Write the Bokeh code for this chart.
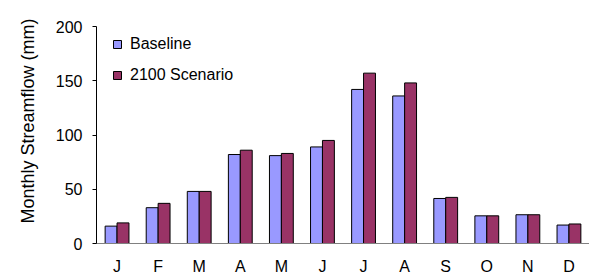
from bokeh.plotting import figure
from bokeh.models import ColumnDataSource, FixedTicker, Legend, LegendItem, Title
from bokeh.transform import dodge
from bokeh.embed import file_html
from bokeh.resources import INLINE

months = ["J", "F", "M", "A", "M", "J", "J", "A", "S", "O", "N", "D"]
baseline = [16, 33, 48, 82, 81, 89, 142, 136, 41.5, 25.5, 26.5, 17]
scenario = [19, 37, 48, 86, 83, 95, 157, 148, 42.5, 25.5, 26.5, 18]
y_ticks = [0, 50, 100, 150, 200]
series_names = ["Baseline", "2100 Scenario"]
y_title = "Monthly Streamflow (mm)"

FONT = "Liberation Sans"
FS = "16px"

idx = list(range(len(months)))
src = ColumnDataSource(dict(x=idx, base=baseline, scen=scenario))

p = figure(width=589, height=278, x_range=(-0.5, len(months) - 0.5), y_range=(0, 200),
           output_backend="svg", toolbar_location=None, title=None,
           min_border_left=91, min_border_right=0, min_border_top=26, min_border_bottom=35)
p.outline_line_color = None
p.grid.visible = False
p.background_fill_color = "white"

bw = 0.29
r1 = p.vbar(x=dodge("x", -bw / 2), top="base", width=bw, source=src,
            fill_color="#9999FF", line_color="black", line_width=1)
r2 = p.vbar(x=dodge("x", bw / 2), top="scen", width=bw, source=src,
            fill_color="#993366", line_color="black", line_width=1)

# y axis
p.yaxis.ticker = FixedTicker(ticks=y_ticks, minor_ticks=[])
p.yaxis.major_tick_out = 4
p.yaxis.major_tick_in = 0
p.yaxis.minor_tick_out = 0
p.yaxis.minor_tick_in = 0
p.yaxis.axis_line_color = "black"
p.yaxis.major_tick_line_color = "black"
p.yaxis.major_label_standoff = 10
p.yaxis.major_label_text_font = FONT
p.yaxis.major_label_text_font_size = FS
p.yaxis.major_label_text_color = "black"

# x axis
p.xaxis.ticker = FixedTicker(ticks=idx, minor_ticks=[])
p.xaxis.major_label_overrides = {i: m for i, m in enumerate(months)}
p.xaxis.axis_line_color = "#808080"
p.xaxis.major_tick_out = 0
p.xaxis.major_tick_in = 0
p.xaxis.minor_tick_out = 0
p.xaxis.minor_tick_in = 0
p.xaxis.major_label_standoff = 14
p.xaxis.major_label_text_font = FONT
p.xaxis.major_label_text_font_size = FS
p.xaxis.major_label_text_color = "black"

# y axis title (placed as a side title so it can sit slightly above centre)
ytitle = Title(text=y_title, align="left", offset=20, standoff=30,
               text_font=FONT, text_font_size="18px", text_font_style="normal",
               text_color="black")
p.add_layout(ytitle, "left")

legend = Legend(items=[LegendItem(label=series_names[0], renderers=[r1]),
                       LegendItem(label=series_names[1], renderers=[r2])],
                location=(16, 159), glyph_width=10, glyph_height=10,
                label_standoff=8, spacing=13, padding=0, margin=0,
                border_line_color=None, background_fill_alpha=0,
                label_text_font=FONT, label_text_font_size=FS,
                label_text_color="black")
p.add_layout(legend)

open("out.html", "w").write(file_html(p, INLINE))
